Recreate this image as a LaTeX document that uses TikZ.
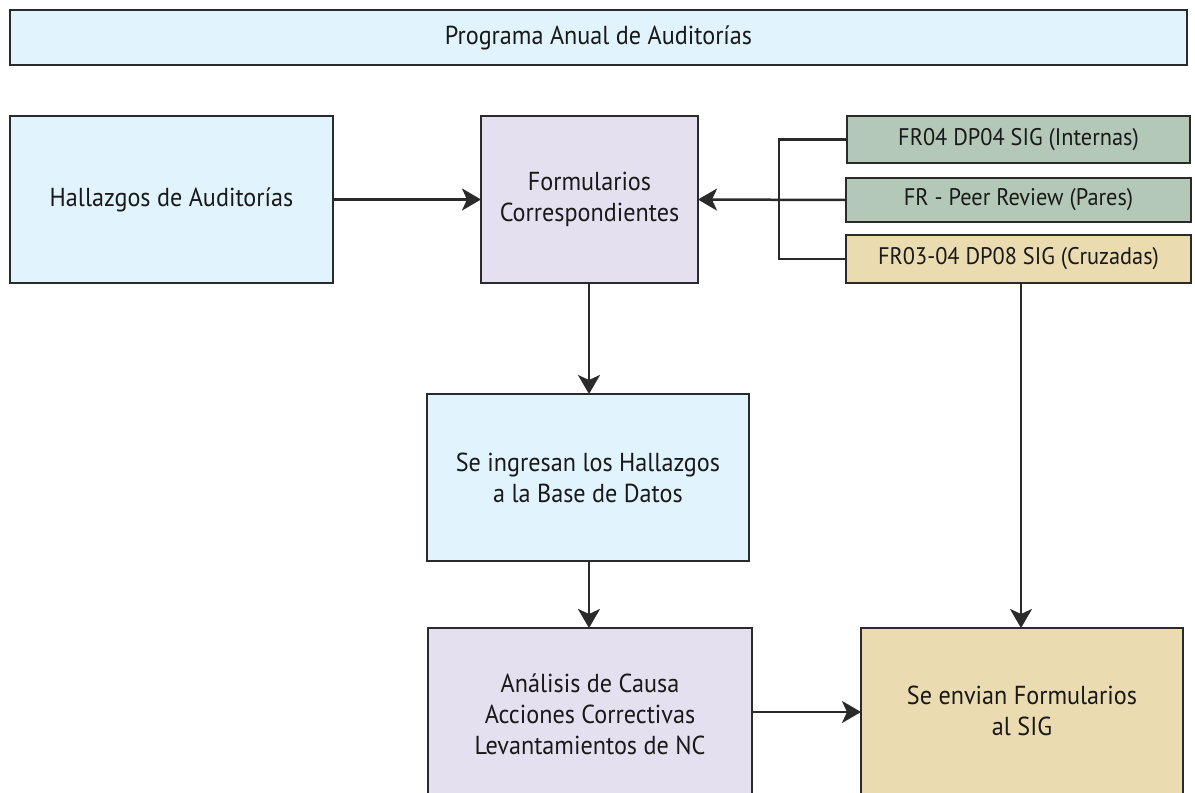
\documentclass[tikz,border=0pt]{standalone}
\usepackage{fontspec}
\setmainfont[FakeStretch=0.93]{PT Sans}
\usetikzlibrary{arrows.meta}
\definecolor{lblue}{HTML}{E1F3FC}
\definecolor{lav}{HTML}{E5E0EF}
\definecolor{sage}{HTML}{B4C8B8}
\definecolor{tan}{HTML}{EBDBB0}
\definecolor{bordc}{HTML}{2A2A2A}
\begin{document}
\begin{tikzpicture}[x=1pt,y=-1pt,
  rbox/.style={draw=bordc, line width=2.3pt, inner sep=0pt, outer sep=0pt, align=center,
    font=\fontsize{26}{31}\selectfont, text=black!90},
  sbox/.style={rbox, font=\fontsize{24}{29}\selectfont},
  conn/.style={draw=bordc, line width=2.5pt},
  arr/.style={conn, -{Stealth[length=19pt,width=22pt,inset=5pt]}}]
\useasboundingbox (0,0) rectangle (1195,793);
\clip (0,0) rectangle (1195,793);
\node[rbox, fill=lblue, minimum width=1177pt, minimum height=55pt] (banner) at (598.5,37.5) {Programa Anual de Auditorías};
\node[rbox, fill=lblue, minimum width=323pt, minimum height=167pt] (hall) at (171.5,199.5) {Hallazgos de Auditorías};
\node[rbox, fill=lav, minimum width=217pt, minimum height=167pt] (form) at (589.5,199.5) {Formularios\\Correspondientes};
\node[sbox, fill=sage, minimum width=343pt, minimum height=47pt] (fr04) at (1018.5,139.5) {FR04 DP04 SIG (Internas)};
\node[sbox, fill=sage, minimum width=345pt, minimum height=44pt] (frpr) at (1018.5,200) {FR - Peer Review (Pares)};
\node[sbox, fill=tan, minimum width=345pt, minimum height=48pt] (fr03) at (1018.5,259) {FR03-04 DP08 SIG (Cruzadas)};
\node[rbox, fill=lblue, minimum width=322pt, minimum height=167pt] (ingr) at (588,477.5) {Se ingresan los Hallazgos\\a la Base de Datos};
\node[rbox, fill=lav, minimum width=324pt, minimum height=172pt] (anal) at (590,714) {Análisis de Causa\\Acciones Correctivas\\Levantamientos de NC};
\node[rbox, fill=tan, minimum width=322pt, minimum height=172pt] (envi) at (1022,714) {\raisebox{6pt}{\begin{tabular}{@{}c@{}}Se envian Formularios\\al SIG\end{tabular}}};
\coordinate (bx) at (779,200);
\draw[arr] (hall.east) -- (form.west);
\draw[conn] (fr04.west) -| (bx) |- (fr03.west);
\draw[arr] (frpr.west) -- (form.east);
\draw[arr] (form.south -| 589,0) -- (ingr.north -| 589,0);
\draw[arr] (ingr.south -| 589,0) -- (anal.north -| 589,0);
\draw[arr] (anal.east |- 0,712) -- (envi.west |- 0,712);
\draw[arr] (fr03.south -| 1021,0) -- (envi.north -| 1021,0);
\end{tikzpicture}
\end{document}
